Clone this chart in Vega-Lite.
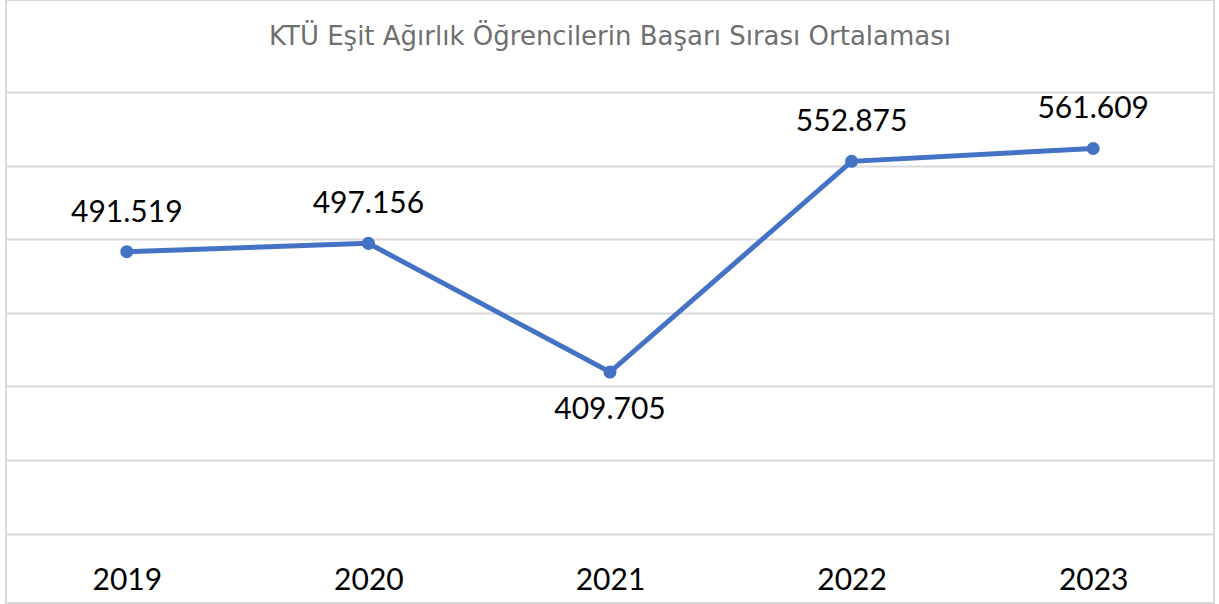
{
  "$schema": "https://vega.github.io/schema/vega-lite/v6.json",
  "autosize": "none",
  "width": 1208,
  "height": 603,
  "padding": {"left": 6, "top": 0, "right": 5, "bottom": 1},
  "background": "white",
  "config": {
    "locale": {"number": {"decimal": ",", "thousands": ".", "grouping": [3], "currency": ["", ""]}},
    "view": {"stroke": "#d9d9d9", "strokeWidth": 2},
    "font": "Lato"
  },
  "title": {
    "text": "KTÜ Eşit Ağırlık Öğrencilerin Başarı Sırası Ortalaması",
    "font": "DejaVu Sans",
    "fontSize": 26,
    "fontWeight": "normal",
    "color": "#6f6f6f",
    "anchor": "middle",
    "baseline": "alphabetic",
    "offset": -46,
    "dy": 25
  },
  "data": {
    "values": [
      {"year": "2019", "value": 491519},
      {"year": "2020", "value": 497156},
      {"year": "2021", "value": 409705},
      {"year": "2022", "value": 552875},
      {"year": "2023", "value": 561609}
    ]
  },
  "encoding": {
    "x": {
      "field": "year", "type": "ordinal",
      "scale": {"type": "point", "padding": 0.5},
      "axis": {
        "title": null, "domain": false, "ticks": false, "tickSize": 0,
        "labelAngle": 0, "labelFont": "Lato", "labelFontSize": 30,
        "labelColor": "#000000", "labelBaseline": "middle", "labelPadding": -23
      }
    },
    "y": {
      "field": "value", "type": "quantitative",
      "scale": {"domain": [252800, 662500], "nice": false, "zero": false},
      "axis": {
        "title": null, "labels": false, "ticks": false, "domain": false,
        "values": [300000, 350000, 400000, 450000, 500000, 550000, 600000],
        "gridColor": "#d9d9d9", "gridWidth": 2
      }
    }
  },
  "layer": [
    {"mark": {"type": "line", "color": "#4472C4", "strokeWidth": 5}},
    {"mark": {"type": "point", "filled": true, "color": "#4472C4", "size": 170, "opacity": 1}},
    {
      "transform": [{"filter": "datum.year != '2021'"}],
      "mark": {"type": "text", "font": "Lato", "fontSize": 30, "color": "#000000", "baseline": "middle", "dy": -39},
      "encoding": {"text": {"field": "value", "type": "quantitative", "format": ","}}
    },
    {
      "transform": [{"filter": "datum.year == '2021'"}],
      "mark": {"type": "text", "font": "Lato", "fontSize": 30, "color": "#000000", "baseline": "middle", "dy": 38},
      "encoding": {"text": {"field": "value", "type": "quantitative", "format": ","}}
    }
  ]
}
